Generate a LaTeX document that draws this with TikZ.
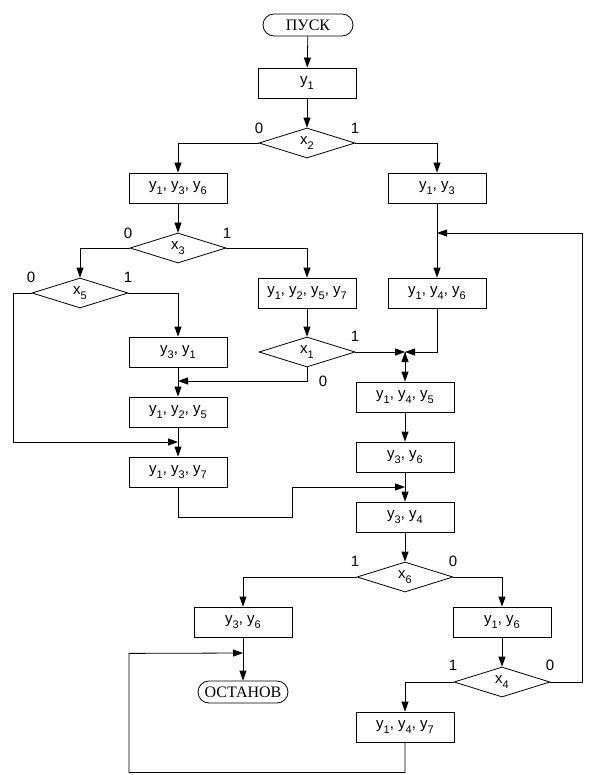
\documentclass[tikz,border=0pt]{standalone}
\usepackage{fontspec}
\setmainfont{Liberation Sans}
\newfontfamily\termfont{Liberation Serif}
\usetikzlibrary{arrows.meta,shapes.geometric,shapes.misc}
\newcommand\yvar[1]{y\lower.55ex\hbox{\fontsize{11}{11}\selectfont#1}}
\newcommand\xvar[1]{x\lower.55ex\hbox{\fontsize{11}{11}\selectfont#1}}
\tikzset{
  box/.style={draw, minimum width=98pt, minimum height=30pt, inner sep=0pt},
  cond/.style={draw, diamond, aspect=3.2, minimum width=96pt, minimum height=30pt, inner sep=0pt},
  term/.style={draw, rounded rectangle, minimum width=90pt, minimum height=22pt, inner sep=0pt,
    font=\termfont\fontsize{16}{16}\selectfont},
  lbl/.style={inner sep=0pt}
}
\begin{document}
\begin{tikzpicture}[x=1pt, y=-1pt, line width=0.8pt, font=\fontsize{15}{17}\selectfont,
    >={Triangle[length=10pt,width=7pt]}]
    \useasboundingbox (0,0) rectangle (599,775);

    \node[term](S)   at (308, 25) {ПУСК};
    \node[box] (B1)  at (307, 83) {\yvar1};
    \node[cond](D2)  at (307,143) {\xvar2};
    \node[box] (B2)  at (178,188) {\yvar1, \yvar3, \yvar6};
    \node[box] (B3)  at (437,188) {\yvar1, \yvar3};
    \node[cond](D3)  at (178,248) {\xvar3};
    \node[cond](D5)  at ( 80,293) {\xvar5};
    \node[box] (B4)  at (307,293) {\yvar1, \yvar2, \yvar5, \yvar7};
    \node[box] (B5)  at (437,293) {\yvar1, \yvar4, \yvar6};
    \node[box] (B6)  at (178,352) {\yvar3, \yvar1};
    \node[cond](D1)  at (307,352) {\xvar1};
    \node[box] (B7)  at (178,412) {\yvar1, \yvar2, \yvar5};
    \node[box] (B8)  at (405,397) {\yvar1, \yvar4, \yvar5};
    \node[box] (B9)  at (178,472) {\yvar1, \yvar3, \yvar7};
    \node[box] (B10) at (405,457) {\yvar3, \yvar6};
    \node[box] (B11) at (405,517) {\yvar3, \yvar4};
    \node[cond](D6)  at (405,577) {\xvar6};
    \node[box] (B12) at (243,622) {\yvar3, \yvar6};
    \node[box] (B13) at (502,622) {\yvar1, \yvar6};
    \node[cond](D4)  at (502,682) {\xvar4};
    \node[term](E)   at (243,692) {ОСТАНОВ};
    \node[box] (B14) at (405,727) {\yvar1, \yvar4, \yvar7};

    \node[lbl](L20) at (259,128) {0};
    \node[lbl](L21) at (355,128) {1};
    \node[lbl](L30) at (128,233) {0};
    \node[lbl](L31) at (227,233) {1};
    \node[lbl](L50) at ( 31,277) {0};
    \node[lbl](L51) at (128,277) {1};
    \node[lbl](L11) at (355,336) {1};
    \node[lbl](L10) at (323,381) {0};
    \node[lbl](L61) at (355,561) {1};
    \node[lbl](L60) at (453,561) {0};
    \node[lbl](L41) at (453,665) {1};
    \node[lbl](L40) at (550,665) {0};

    \coordinate(M0) at (437,233);
    \coordinate(M1) at (178,381);
    \coordinate(M2) at (405,352);
    \coordinate(M3) at (178,442);
    \coordinate(M4) at (405,487);
    \coordinate(M5) at (243,653);

    \draw[->] (S) edge (B1) (B1) edge (D2) (B2) edge (D3) (B3) edge (B5)
              (B6) edge (B7) (B4) edge (D1) (B7) edge (B9) (M2) edge (B8)
              (B8) edge (B10) (B10) edge (B11) (B11) edge (D6) (B12) edge (E)
              (B13) edge (D4);
    \draw[->] (D2.west) -| (B2);
    \draw[->] (D2.east) -| (B3);
    \draw[->] (D3.west) -| (D5);
    \draw[->] (D3.east) -| (B4);
    \draw[->] (D5.east) -| (B6);
    \draw[->] (D5.west) -- ++(-18,0) |- (M3);
    \draw[->] (D1.south) |- (M1);
    \draw[->] (D1.east) -- (M2);
    \draw[->] (B5.south) |- (M2);
    \draw[->] (B9.south) -- ++(0,30) -- ++(114,0) |- (M4);
    \draw[->] (D6.west) -| (B12);
    \draw[->] (D6.east) -| (B13);
    \draw[->] (D4.west) -| (B14);
    \draw[->] (D4.east) -- ++(32,0) |- (M0);
    \draw[->] (B14.south) -- ++(0,30) -| ++(-276,-119) -- (M5);
  \end{tikzpicture}
\end{document}
